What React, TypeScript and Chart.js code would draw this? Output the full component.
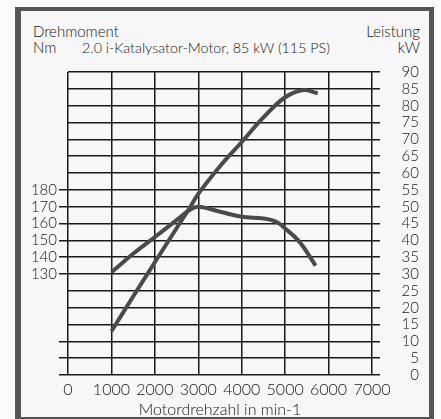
import React, { useEffect, useRef } from "react";
import { Chart, registerables } from "chart.js";

Chart.register(...registerables);

// ---- data ----
const torqueRpm = [1000, 1500, 2000, 2500, 2800, 3000, 3500, 4000, 4500, 4800, 5000, 5300, 5500, 5700];
const torqueNm = [131, 142, 152, 162, 168, 170, 167, 164, 163, 161, 157, 150, 143, 135];

const powerRpm = [1000, 1500, 2000, 2500, 2800, 3000, 3500, 4000, 4500, 5000, 5400, 5750];
const powerKW = [13, 23.3, 33.5, 43.6, 49.6, 53.8, 62, 69.2, 76.5, 82.5, 84.6, 83.7];

const nmLabelValues = [130, 140, 150, 160, 170, 180];
const nmTickMarkValues = [70, 80, 90, 130, 140, 150, 160, 170, 180];

const titleText = "2.0 i-Katalysator-Motor, 85 kW (115 PS)";
const xAxisTitle = "Motordrehzahl in min-1";
const leftTitle = ["Drehmoment", "Nm"];
const rightTitle = ["Leistung", "kW"];

const FONT = "Lato, 'Noto Sans', sans-serif";
const INK = "#161616";
const GRID = "#1a1a1a";
const CURVE = "#4a4a4a";

export default function App() {
  const ref = useRef<HTMLCanvasElement | null>(null);

  useEffect(() => {
    if (!ref.current) return;
    const chart = new Chart(ref.current, {
      type: "line",
      data: {
        datasets: [
          {
            label: "Drehmoment",
            data: torqueRpm.map((r, i) => ({ x: r, y: torqueNm[i] })),
            yAxisID: "yNm",
            borderColor: CURVE,
            borderWidth: 4,
            pointRadius: 0,
            tension: 0.4,
            fill: false,
          },
          {
            label: "Leistung",
            data: powerRpm.map((r, i) => ({ x: r, y: powerKW[i] })),
            yAxisID: "yKW",
            borderColor: CURVE,
            borderWidth: 4,
            pointRadius: 0,
            tension: 0.4,
            fill: false,
          },
        ],
      },
      options: {
        responsive: false,
        animation: false,
        layout: { padding: { top: 72, right: 22, bottom: 0, left: 0 } },
        plugins: { legend: { display: false }, tooltip: { enabled: false } },
        scales: {
          x: {
            type: "linear",
            position: "bottom",
            min: 0,
            max: 7000,
            ticks: {
              stepSize: 1000,
              autoSkip: false,
              maxRotation: 0,
              padding: 5,
              color: INK,
              font: { family: FONT, size: 16, weight: "300" },
              callback: (v: any) => String(v),
            },
            grid: { color: GRID, lineWidth: 1.5, drawTicks: false },
            border: { display: false },
            title: {
              display: true,
              text: xAxisTitle,
              color: INK,
              font: { family: FONT, size: 16, weight: "300" },
              padding: { top: 0, bottom: 0 },
            },
            afterFit: (s: any) => {
              s.height = 44;
            },
          },
          yNm: {
            type: "linear",
            position: "left",
            min: 70,
            max: 250,
            ticks: {
              stepSize: 10,
              autoSkip: false,
              padding: 2,
              color: INK,
              font: { family: FONT, size: 15, weight: "300" },
              callback: (v: any) => (nmLabelValues.includes(Number(v)) ? String(v) : ""),
            },
            grid: {
              drawOnChartArea: false,
              tickLength: 9,
              lineWidth: 1.5,
              color: (ctx: any) =>
                ctx.tick && nmTickMarkValues.includes(ctx.tick.value) ? GRID : "rgba(0,0,0,0)",
            },
            border: { display: false },
            afterFit: (s: any) => {
              s.width = 68;
            },
          },
          yKW: {
            type: "linear",
            position: "right",
            min: 0,
            max: 90,
            ticks: {
              stepSize: 5,
              autoSkip: false,
              crossAlign: "far",
              color: INK,
              font: { family: FONT, size: 15, weight: "300" },
            },
            grid: { color: GRID, lineWidth: 1.5, tickLength: 8 },
            border: { display: false },
            afterFit: (s: any) => {
              s.width = 47;
            },
          },
        },
      },
    } as any);
    return () => chart.destroy();
  }, []);

  const textStyle: React.CSSProperties = {
    position: "absolute",
    fontFamily: FONT,
    fontSize: 15,
    fontWeight: 300,
    lineHeight: "15px",
    color: INK,
    whiteSpace: "nowrap",
  };

  return (
    <div style={{ position: "absolute", left: 0, top: 0, width: 441, height: 419, background: "#fbfbfb", overflow: "hidden" }}>
      <div
        style={{
          position: "absolute",
          left: 15,
          top: 7,
          width: 419,
          height: 412,
          boxSizing: "border-box",
          borderLeft: "6px solid #555",
          borderRight: "5px solid #555",
          borderTop: "4px solid #555",
          borderBottom: "2px solid #555",
          background: "#f7f7f7",
        }}
      />
      <div style={{ ...textStyle, left: 33, top: 24 }}>{leftTitle[0]}</div>
      <div style={{ ...textStyle, left: 33, top: 40 }}>{leftTitle[1]}</div>
      <div style={{ ...textStyle, left: 82, top: 40, fontSize: 14.3 }}>{titleText}</div>
      <div style={{ ...textStyle, right: 21, top: 24, textAlign: "right" }}>{rightTitle[0]}</div>
      <div style={{ ...textStyle, right: 21, top: 40, textAlign: "right" }}>{rightTitle[1]}</div>
      <canvas ref={ref} width={441} height={419} style={{ position: "absolute", left: 0, top: 0 }} />
    </div>
  );
}
